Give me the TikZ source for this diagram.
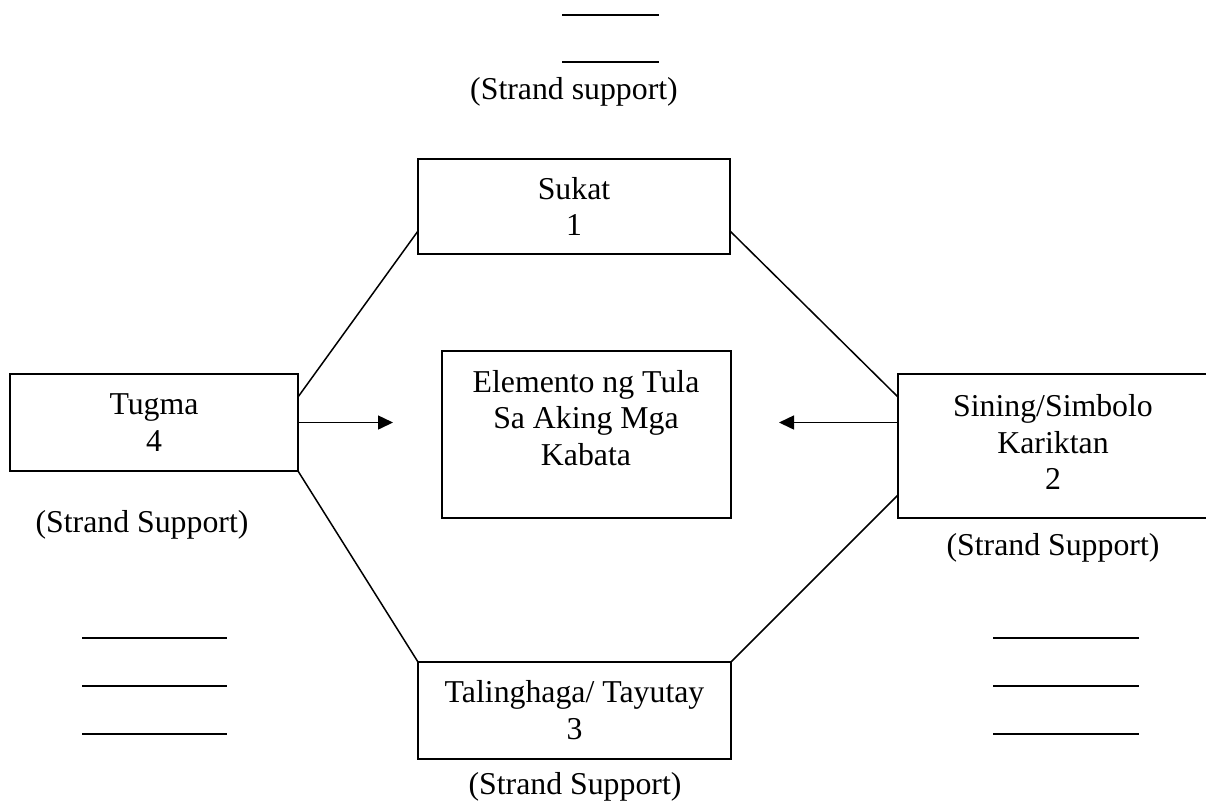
\documentclass[tikz,border=0pt]{standalone}
\usepackage{fontspec}
\setmainfont{Liberation Serif}
\usetikzlibrary{arrows.meta}
\begin{document}
\begin{tikzpicture}[x=1pt,y=-1pt,
  every node/.style={font=\fontsize{31.8}{36.8}\selectfont},
  boxnode/.style={draw=black,line width=1.5pt,rectangle,inner sep=0pt,outer sep=0pt,align=center},
  lbl/.style={inner sep=0pt,align=center},
  conn/.style={line width=1.5pt,black},
  arr/.style={line width=1.5pt,black,-{Triangle[length=15pt,width=14pt]}},
  blank/.style={line width=1.6pt,black}
]
\useasboundingbox (0,0) rectangle (1206,807);
% boxes
\node[boxnode,minimum width=288pt,minimum height=97pt] (tugma) at (154,422.5) {Tugma\\4};
\node[boxnode,minimum width=312pt,minimum height=95pt] (sukat) at (574,206.5) {Sukat\\1};
\node[boxnode,minimum width=312pt,minimum height=144pt] (sining) at (1054,446) {};
\node[lbl] (siningtext) at (1053,442) {Sining/Simbolo\\Kariktan\\2};
\node[boxnode,minimum width=289pt,minimum height=167pt] (center) at (586.5,434.5) {};
\node[lbl] (centertext) at (586,418) {Elemento ng Tula\\Sa Aking Mga\\Kabata};
\node[boxnode,minimum width=313pt,minimum height=97pt] (talinghaga) at (574.5,710.5) {Talinghaga/ Tayutay\\3};
% labels
\node[lbl] (topsupport) at (574,92) {(Strand support)};
\node[lbl] (leftsupport) at (142,525) {(Strand Support)};
\node[lbl] (rightsupport) at (1053,548) {(Strand Support)};
\node[lbl] (bottomsupport) at (575,787) {(Strand Support)};
% connectors
\draw[conn] ([yshift=-23pt]tugma.north east) -- ([yshift=23pt]sukat.south west);
\draw[conn] ([yshift=23pt]sukat.south east) -- ([yshift=-23pt]sining.north west);
\draw[conn] (tugma.south east) -- (talinghaga.north west);
\draw[conn] ([yshift=23pt]sining.south west) -- (talinghaga.north east);
% arrows
\coordinate (tipL) at (393,422.5);
\coordinate (tipR) at (779,422.5);
\draw[arr] (tugma.east) -- (tipL);
\draw[arr] ([yshift=-48.5pt]sining.north west) -- (tipR);
% blank lines
\coordinate (t1a) at (562,15); \coordinate (t1b) at (659,15);
\coordinate (t2a) at (562,62); \coordinate (t2b) at (659,62);
\draw[blank] (t1a) -- (t1b);
\draw[blank] (t2a) -- (t2b);
\foreach \yy [count=\i] in {638,686,734}{
  \coordinate (l\i a) at (82,\yy); \coordinate (l\i b) at (227,\yy);
  \draw[blank] (l\i a) -- (l\i b);
  \coordinate (r\i a) at (993,\yy); \coordinate (r\i b) at (1139,\yy);
  \draw[blank] (r\i a) -- (r\i b);
}
\end{tikzpicture}
\end{document}
